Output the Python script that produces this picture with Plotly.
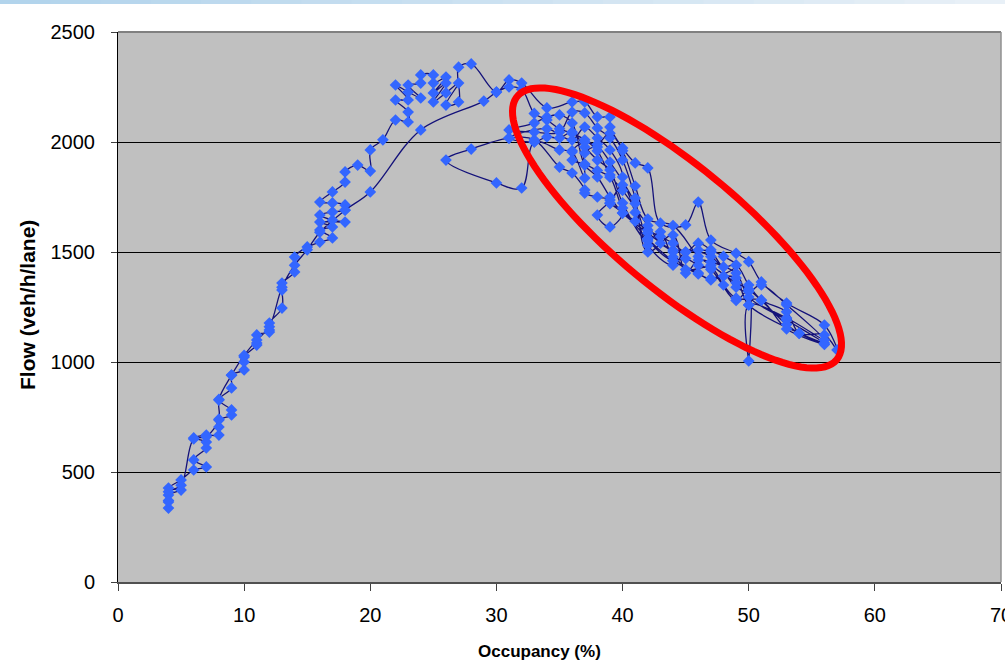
import numpy as np
import plotly.graph_objects as go

# ---- data (time-ordered detector samples) ----
occupancy = [
    # morning free-flow rise
    4, 4, 4, 5, 4, 5, 6, 7, 6, 7, 7, 6, 7, 8, 8, 8, 9, 9, 8, 9, 9, 10, 10, 10, 11, 11, 11, 12, 12, 12,
    13, 13, 13, 14, 14, 15, 16, 17, 16, 17, 16, 18, 17, 16, 17, 18, 18, 17, 16, 17, 18, 18, 19, 20, 20,
    21, 22, 23, 23, 22, 23, 22, 23, 24, 23, 24, 24, 25, 25, 26, 25, 26, 25, 26, 27, 26, 27, 27, 28,
    # congestion passes
    30, 31, 32, 34, 36, 37, 38, 39, 39, 40, 41, 42, 43, 45, 46, 47, 49, 50, 51, 53, 56, 57,
    56, 54, 53, 51, 50, 49, 48, 47, 46, 44, 42, 40, 39, 38, 37, 36, 35, 34, 33, 31,
    33, 35, 36, 37, 38, 39, 40, 41, 42, 44, 45, 46, 47, 49, 50, 53, 56,
    50, 49, 48, 47, 46, 44, 43, 42, 40, 39, 38, 37, 36, 35, 34, 33, 31,
    34, 36, 37, 38, 39, 40, 39, 40, 41, 42, 44, 45, 47, 49, 50, 51, 53, 56,
    53, 50, 50, 50, 49, 47, 46, 45, 44, 42, 41, 39, 38, 37, 37, 36, 35, 33, 32,
    30, 26, 28, 31, 33, 35, 36, 37, 37, 38, 39, 38, 39, 40, 39, 41, 42, 43, 44, 45, 46, 47, 48, 49,
    47, 46, 44, 42, 40, 39, 38, 37, 36, 36, 37, 38, 39, 40, 41, 42, 44, 46, 47, 49, 50, 53, 54, 56,
    53, 51, 49, 48, 47, 45, 44, 43, 42, 40, 39, 38, 37, 36, 35, 34, 33, 32, 31,
    # recovery
    30, 29, 24, 20, 18, 16, 15, 14, 13, 12, 11, 10, 9, 8, 8, 7, 6, 5, 4, 4,
]
flow = [
    336, 364, 395, 418, 427, 464, 509, 523, 555, 609, 636, 655, 668, 668, 705, 736, 759, 782, 827, 882,
    941, 964, 1000, 1023, 1077, 1086, 1123, 1136, 1145, 1177,
    1245, 1327, 1359, 1409, 1477, 1523, 1545, 1564, 1600, 1614, 1636, 1636, 1645, 1668, 1682, 1691, 1714,
    1723, 1727, 1773, 1818, 1864, 1895, 1868, 1964,
    2010, 2100, 2091, 2136, 2191, 2191, 2259, 2227, 2200, 2259, 2268, 2305, 2305, 2268, 2295, 2223, 2268,
    2182, 2223, 2268, 2168, 2182, 2340, 2355,
    2227, 2282, 2268, 2155, 2182, 2182, 2114, 2114, 2068, 1973, 1905, 1882, 1631, 1623, 1727, 1554, 1494,
    1456, 1364, 1268, 1168, 1055,
    1123, 1131, 1228, 1282, 1350, 1441, 1432, 1500, 1509, 1509, 1586, 1677, 1750, 1841, 1895, 2086, 2123,
    2114, 2086, 2055,
    2045, 2045, 2136, 2132, 2064, 2018, 1918, 1745, 1500, 1577, 1404, 1464, 1455, 1404, 1295, 1191, 1086,
    1259, 1382, 1390, 1373, 1404, 1477, 1592, 1550, 1723, 1873, 1918, 1977, 2045, 2018, 2023, 2000, 2018,
    2060, 2009, 2068, 2018, 1964, 1841, 1723, 1805, 1680, 1530, 1440, 1500, 1480, 1340, 1320, 1350, 1260,
    1100,
    1200, 1259, 1005, 1330, 1280, 1420, 1440, 1470, 1460, 1560, 1720, 1909, 1977, 1950, 1836, 1955, 1964,
    2000, 1791,
    1814, 1918, 1968, 2018, 2010, 1886, 1859, 1782, 1768, 1750, 1736, 1668, 1614, 1677, 1720, 1640, 1600,
    1570, 1540, 1500, 1540, 1510, 1480, 1440,
    1380, 1400, 1460, 1560, 1700, 1840, 1870, 1900, 1918, 1960, 2000, 1990, 2040, 1960, 1800, 1650, 1620,
    1480, 1440, 1360, 1330, 1170, 1130, 1080,
    1150, 1280, 1290, 1350, 1430, 1420, 1500, 1540, 1620, 1780, 1850, 1960, 2010, 2040, 2060, 2100, 2130,
    2240, 2250,
    2227, 2186, 2055, 1773, 1690, 1590, 1510, 1440, 1340, 1160, 1100, 1030, 940, 830, 740, 660, 650,
    440, 410, 370,
]

x_ticks = [0, 10, 20, 30, 40, 50, 60, 70]
y_ticks = [0, 500, 1000, 1500, 2000, 2500]
x_title = "Occupancy (%)"
y_title = "Flow (veh/h/lane)"

fig = go.Figure()
fig.add_trace(go.Scatter(
    x=occupancy, y=flow, mode="lines+markers",
    line=dict(color="#14127a", width=1.3, shape="spline", smoothing=1.0),
    marker=dict(symbol="diamond", size=9, color="#3366ff", line=dict(width=0)),
    showlegend=False, hoverinfo="x+y",
))

# plot-area pixel geometry (for annotation ellipse)
L, R, T, B = 118, 1001, 32, 582
W, H = R - L, B - T
def px2x(px): return (px - L) / W * 70
def py2y(py): return (B - py) / H * 2500

t = np.linspace(0, 2 * np.pi, 120)
cx, cy, a, b, ang = 677, 228, 207, 62, np.deg2rad(39.5)
ex = cx + a * np.cos(t) * np.cos(ang) - b * np.sin(t) * np.sin(ang)
ey = cy + a * np.cos(t) * np.sin(ang) + b * np.sin(t) * np.cos(ang)
path = "M " + " L ".join(f"{px2x(u):.4f},{py2y(v):.3f}" for u, v in zip(ex, ey)) + " Z"
shapes = [dict(type="path", path=path, xref="x", yref="y",
               line=dict(color="#ff0000", width=7), layer="above")]

# top light-blue gradient strip
n = 20
c0, c1 = np.array([178, 212, 236]), np.array([232, 240, 247])
for i in range(n):
    c = c0 + (c1 - c0) * i / (n - 1)
    shapes.append(dict(type="rect", xref="paper", yref="paper",
                       x0=(-L + i * 1005 / n) / W, x1=(-L + (i + 1) * 1005 / n + 1) / W,
                       y0=1 + (T - 4) / H, y1=1 + T / H,
                       fillcolor=f"rgb({int(c[0])},{int(c[1])},{int(c[2])})",
                       line=dict(width=0), layer="below"))
# top and right borders of the plot area
shapes.append(dict(type="line", xref="paper", yref="paper", x0=0, x1=1, y0=1, y1=1,
                   line=dict(color="#808080", width=2)))
shapes.append(dict(type="line", xref="paper", yref="paper", x0=1, x1=1, y0=0, y1=1,
                   line=dict(color="#909090", width=1.5)))

font = "Liberation Sans, Arial, sans-serif"
annotations = [
    dict(text=f"<b>{x_title}</b>", xref="paper", yref="paper",
         x=(539 - L) / W, y=-(651 - B) / H, showarrow=False,
         xanchor="center", yanchor="middle", font=dict(size=17)),
    dict(text=f"<b>{y_title}</b>", xref="paper", yref="paper",
         x=-(L - 27) / W, y=(B - 305) / H, showarrow=False, textangle=-90,
         xanchor="center", yanchor="middle", font=dict(size=21)),
]

fig.update_layout(
    width=1005, height=670,
    margin=dict(l=L, r=1005 - R, t=T, b=670 - B, autoexpand=False),
    paper_bgcolor="white", plot_bgcolor="#c0c0c0",
    font=dict(family=font, size=20, color="black"),
    shapes=shapes, annotations=annotations,
    xaxis=dict(range=[0, 70], tickvals=x_ticks, ticks="outside", ticklen=7, tickcolor="#404040",
               showgrid=False, zeroline=False, showline=True, linecolor="#505050", linewidth=2,
               mirror=False, ticklabelstandoff=7, automargin=False, ticklabeloverflow="allow"),
    yaxis=dict(range=[0, 2500], tickvals=y_ticks, ticks="outside", ticklen=6, tickcolor="#404040",
               showgrid=True, gridcolor="black", gridwidth=1, zeroline=False, automargin=False,
               showline=True, linecolor="black", linewidth=1, ticklabelstandoff=12,
               ticklabeloverflow="allow"),
)

fig.write_html("out.html", config={"displayModeBar": False},
               post_script="document.body.style.margin='0';document.body.style.overflow='hidden';")
